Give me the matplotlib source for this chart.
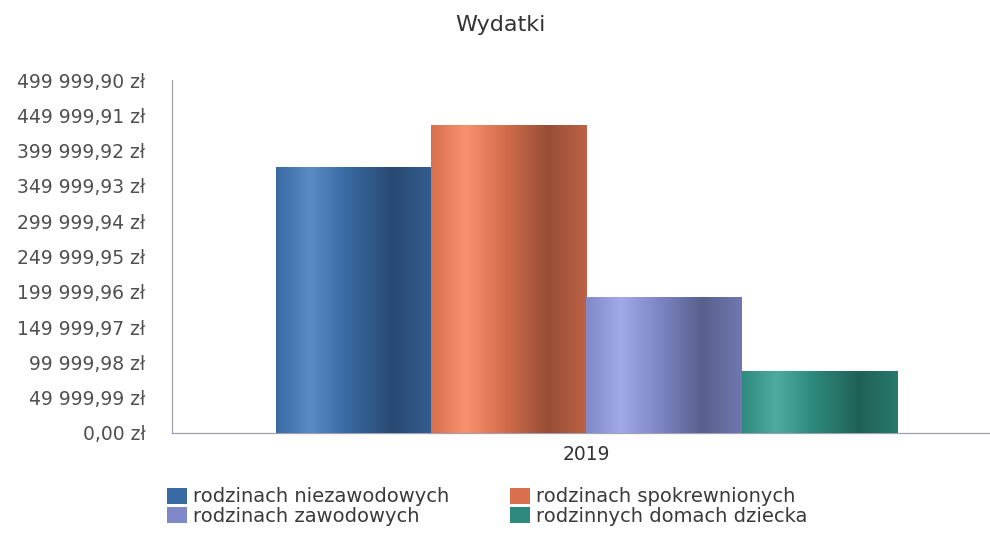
import numpy as np
import matplotlib
matplotlib.use("Agg")
import matplotlib.pyplot as plt
from matplotlib.colors import LinearSegmentedColormap, to_rgb
from matplotlib.patches import Patch

plt.rcParams['font.family'] = ['DejaVu Sans']

title = "Wydatki"
category = "2019"
series = ["rodzinach niezawodowych", "rodzinach spokrewnionych",
          "rodzinach zawodowych", "rodzinnych domach dziecka"]
values = [377300, 436300, 192500, 87200]
colors = ["#3a6aa3", "#d8704e", "#8088c8", "#2e8a7c"]
tick_step = 49999.99
n_ticks = 11

fig = plt.figure(figsize=(9.9, 5.36), dpi=100)
ax = fig.add_axes([0.1737, 0.1922, 0.8263, 0.6585])

w = 0.19
offsets = [(i - 1.5) * w for i in range(len(series))]
for off, v, c, lab in zip(offsets, values, colors, series):
    b = ax.bar(off, v, width=w, color=c, label=lab, zorder=2)[0]
    base = np.array(to_rgb(c))
    light = np.clip(base + 0.13, 0, 1)
    dark = base * 0.7
    cmap = LinearSegmentedColormap.from_list(
        "g", [(0, base), (0.22, light), (0.45, base), (0.75, dark), (1.0, base * 0.88)])
    grad = np.linspace(0, 1, 256).reshape(1, -1)
    x0 = b.get_x()
    im = ax.imshow(grad, cmap=cmap, aspect='auto',
                   extent=[x0, x0 + b.get_width(), 0, b.get_height()], zorder=3)
    im.set_clip_path(b)

ax.set_xlim(-0.507, 0.494)
ax.set_ylim(0, tick_step * (n_ticks - 1))
ticks = [tick_step * i for i in range(n_ticks)]
ax.set_yticks(ticks)
ax.set_yticklabels([f"{t:,.2f}".replace(",", " ").replace(".", ",") + " zł" for t in ticks])
ax.set_xticks([0])
ax.set_xticklabels([category])
ax.tick_params(axis='y', length=0, pad=19, labelsize=13.5, labelcolor="#505050")
ax.tick_params(axis='x', length=0, pad=9, labelsize=13.5, labelcolor="#333333")

for s in ["top", "right"]:
    ax.spines[s].set_visible(False)
ax.spines["left"].set_color("#a0a0b0")
ax.spines["left"].set_linewidth(0.9)
ax.spines["bottom"].set_color("#a0a0b0")
ax.spines["bottom"].set_linewidth(0.9)

fig.text(0.506, 0.953, title, ha="center", va="center", fontsize=16, color="#333333")

legend_kw = dict(loc="center left", frameon=False, fontsize=14, handlelength=1.03,
                 handleheight=0.93, handletextpad=0.31, labelspacing=0.0,
                 borderpad=0, borderaxespad=0, labelcolor="#3a3a3a")
cols = [[0, 2], [1, 3]]
xs = [167 / 990, 510 / 990]
for col, x in zip(cols, xs):
    fig.legend([Patch(facecolor=colors[i]) for i in col], [series[i] for i in col],
               bbox_to_anchor=(x, 1 - 506.5 / 536), **legend_kw)

fig.savefig("out.png", dpi=100, facecolor="white")
